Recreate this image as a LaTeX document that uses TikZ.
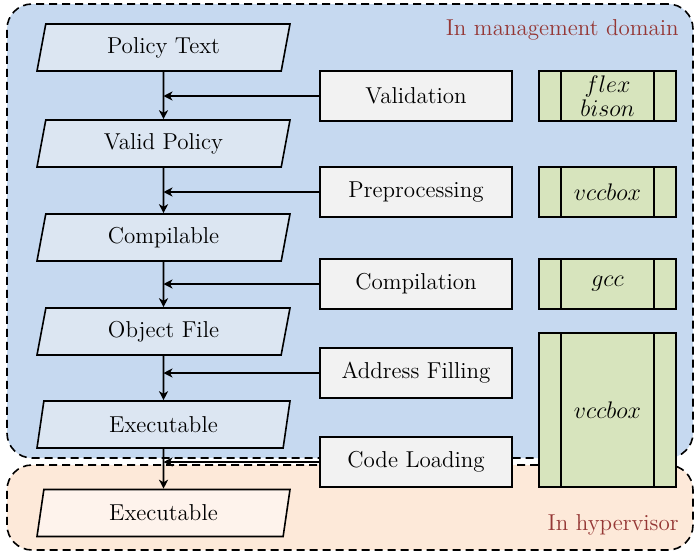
\documentclass[tikz,border=0pt]{standalone}
\usetikzlibrary{shapes.geometric}
\usetikzlibrary{arrows.meta}
\definecolor{mgmtblue}{RGB}{198,217,240}
\definecolor{datablue}{RGB}{220,230,242}
\definecolor{hyporange}{RGB}{253,233,217}
\definecolor{datapeach}{RGB}{254,243,236}
\definecolor{boxgray}{RGB}{242,242,242}
\definecolor{toolgreen}{RGB}{215,228,189}
\definecolor{labelred}{RGB}{149,55,53}
\tikzset{
    every node/.style={
        font=\fontsize{11.5}{13.8}\selectfont},
    data/.style={
        trapezium,
        trapezium left angle=67,
        trapezium right angle=113,
        trapezium stretches body,
        draw, thick,
        fill=datablue,
        inner sep=0pt,
        minimum width=126.5pt,
        minimum height=23.5pt},
    procbox/.style={
        rectangle,
        draw, thick,
        fill=boxgray,
        minimum width=96pt,
        minimum height=25pt},
    toolbox/.style={
        rectangle,
        draw, thick,
        fill=toolgreen,
        align=center,
        inner sep=1pt,
        minimum width=68.5pt,
        minimum height=25pt,
        path picture={
            \draw[thick] ([xshift=11pt]path picture bounding box.north west)
                -- ([xshift=11pt]path picture bounding box.south west);
            \draw[thick] ([xshift=-11pt]path picture bounding box.north east)
                -- ([xshift=-11pt]path picture bounding box.south east);}},
    region/.style={
        draw, thick,
        dash pattern=on 4pt off 2.5pt,
        rounded corners=12.5pt,
        minimum width=343pt},
    regionlabel/.style={
        anchor=base east,
        inner sep=0pt,
        text=labelred},
    every edge/.style={
        draw,
        -{Stealth[length=4.5pt,width=4.5pt,inset=1.3pt]},
        thick}}
\begin{document}
\begin{tikzpicture}[x=0.5pt,y=-0.5pt]
    \useasboundingbox (0,0) rectangle (695,557);

    % domains
    \node[region,fill=mgmtblue,minimum height=227pt] (mgmt) at (350,231) {};
    \node[region,fill=hyporange,minimum height=42.5pt] (hyp) at (350,507.5) {};
    \node[regionlabel] (mgmtlabel) at (679,35) {In management domain};
    \node[regionlabel] (hyplabel) at (679,530) {In hypervisor};

    % data
    \node[data] (policy) at (163.5,47.5) {Policy Text};
    \node[data] (valid) at (163.5,143.5) {Valid Policy};
    \node[data] (compilable) at (163.5,237.5) {Compilable};
    \node[data] (object) at (163.5,331.5) {Object File};
    \node[data] (exec) at (163.5,424.5) {Executable};
    \node[data,fill=datapeach] (exech) at (163.5,513) {Executable};

    % steps
    \node[procbox] (validation) at (416,96) {Validation};
    \node[procbox] (preproc) at (416,192) {Preprocessing};
    \node[procbox] (compilation) at (416,284) {Compilation};
    \node[procbox] (filling) at (416,373) {Address Filling};
    \node[procbox] (loading) at (416,462) {Code Loading};

    % tools
    \node[toolbox] (flexbison) at (607.5,96) {$flex$\\[-1.5pt]$bison$};
    \node[toolbox] (vccboxa) at (607.5,192) {$vccbox$};
    \node[toolbox] (gccbox) at (607.5,284) {$gcc$};
    \node[toolbox,minimum height=77pt] (vccboxb) at (607.5,410) {$vccbox$};

    \draw (policy) edge (valid);
    \draw (valid) edge (compilable);
    \draw (compilable) edge (object);
    \draw (object) edge (exec);
    \draw (exec) edge (exech);

    \draw (validation) edge (validation -| policy);
    \draw (preproc) edge (preproc -| policy);
    \draw (compilation) edge (compilation -| policy);
    \draw (filling) edge (filling -| policy);
    \draw (loading) edge (loading -| policy);
\end{tikzpicture}
\end{document}
